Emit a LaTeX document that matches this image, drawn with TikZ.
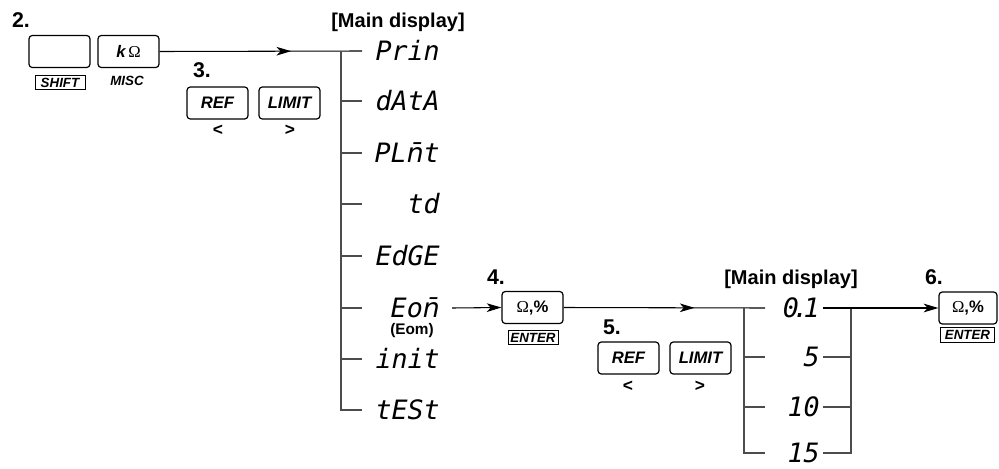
\documentclass[tikz,border=0pt]{standalone}
\usepackage{fontspec}
\setmainfont{Liberation Sans}
\newfontfamily\segfont{DejaVu Sans Mono}
\newfontfamily\segmark{DejaVu Sans}
\newfontfamily\omfont{Liberation Serif}
\usetikzlibrary{arrows.meta,decorations.markings}

\newcommand\barn{{\segmark n̄}}

\tikzset{
  keybox/.style={draw, rounded corners=2.5pt, line width=0.9pt, minimum width=45.75pt,
    minimum height=24pt, inner sep=0pt, font=\bfseries\itshape\fontsize{12.5}{14}\selectfont},
  tagbox/.style={draw, line width=0.6pt, minimum width=37.5pt, minimum height=11pt,
    inner sep=0pt, font=\bfseries\itshape\fontsize{10}{11}\selectfont},
  steplabel/.style={font=\bfseries\fontsize{16}{18}\selectfont},
  headlabel/.style={font=\bfseries\fontsize{15}{17}\selectfont},
  segtext/.style={anchor=base east, inner sep=0pt, font=\segfont\itshape\fontsize{20}{22}\selectfont},
  busline/.style={draw=black!70, line width=0.9pt},
  flowline/.style={line width=0.8pt, postaction={decorate},
    decoration={markings, mark=at position 0.65 with {\arrow{Stealth[length=11pt,width=6.5pt,inset=3pt]}}}},
  keyarrow/.style={line width=0.8pt, -{Stealth[length=11pt,width=6.5pt,inset=3pt]}},
  cursor/.style={font=\bfseries\fontsize{13}{13}\selectfont}
}

\begin{document}
\begin{tikzpicture}[x=0.75pt,y=-0.75pt]
    \useasboundingbox (0,0) rectangle (999,468);

         % --- Step 2: SHIFT + MISC ---
         \node[steplabel] (s2) at (21,20) {2.};
         \node[keybox] (shiftkey) at (59.5,51.5) {};
         \node[keybox] (misckey) at (128.5,51.5) {k\,{\omfont\mdseries\upshape Ω}};
         \node[tagbox] (shifttag) at (60,82.5) {SHIFT};
         \node[font=\bfseries\itshape\fontsize{10}{11}\selectfont] (misctag) at (127,81) {MISC};

         % --- Step 3: REF / LIMIT ---
         \node[steplabel] (s3) at (202,70) {3.};
         \node[keybox] (ref1) at (217.5,103) {REF};
         \node[keybox] (limit1) at (289.5,103) {LIMIT};
         \node[cursor] (left1) at (218,130) {<};
         \node[cursor] (right1) at (290,130) {>};

         % --- Main display (menu) ---
         \node[headlabel] (head1) at (398,22) {[Main display]};
         \coordinate (bus1) at (341,51);
         \foreach \txt/\y/\nm in {Prin/51/prin, dAtA/101/data, PL\barn t/153/plmt, td/204/td,
                                  EdGE/256/edge, Eo\barn/308/eom, init/359/init, tESt/410/test}{
             \node[segtext] (\nm) at (440,\y+9) {\txt};
             \coordinate (\nm tick) at (362,\y);
         }
         \node[font=\bfseries\fontsize{11.5}{12}\selectfont] (eomtag) at (412,331) {(Eom)};

         \draw[flowline] (misckey.east) -- (printick);
         \draw[busline] (bus1) |- (testtick);
         \foreach \nm in {data,plmt,td,edge,eom,init}
             \draw[busline] (bus1 |- \nm tick) -- (\nm tick);

         % --- Step 4: ENTER ---
         \node[steplabel] (s4) at (496,277) {4.};
         \node[keybox, font=\bfseries\fontsize{12.5}{14}\selectfont] (enter1) at (532.5,307.5)
              {{\omfont\mdseries Ω},\%};
         \node[tagbox] (entertag1) at (533,337.5) {ENTER};
         \coordinate (eomout) at (452,308);
         \draw[keyarrow] (eomout) -- (enter1.west);

         % --- Step 5: REF / LIMIT ---
         \node[steplabel] (s5) at (612,327) {5.};
         \node[keybox] (ref2) at (628.5,358) {REF};
         \node[keybox] (limit2) at (700.5,358) {LIMIT};
         \node[cursor] (left2) at (628,386) {<};
         \node[cursor] (right2) at (700,386) {>};

         % --- Main display (values) ---
         \node[headlabel] (head2) at (791,279) {[Main display]};
         \coordinate (bus2) at (744,308);
         \coordinate (bus3) at (851,308);
         \foreach \txt/\y/\nm in {{0\kern-0.22em.\kern-0.2em1}/308/v01, 5/357/v5,
                                  10/407/v10, 15/453/v15}{
             \node[segtext] (\nm) at (820,\y+9) {\txt};
             \coordinate (\nm in) at (765,\y);
             \coordinate (\nm out) at (823,\y);
         }

         \draw[flowline] (enter1.east) -- (v01in);
         \draw[busline] (bus2) |- (v15in);
         \draw[busline] (v15out) -| (bus3);
         \foreach \nm in {v5,v10}{
             \draw[busline] (bus2 |- \nm in) -- (\nm in);
             \draw[busline] (\nm out) -- (bus3 |- \nm out);
         }

         % --- Step 6: ENTER ---
         \node[steplabel] (s6) at (934,277) {6.};
         \node[keybox, minimum width=43.5pt, font=\bfseries\fontsize{12.5}{14}\selectfont] (enter2)
              at (968,308) {{\omfont\mdseries Ω},\%};
         \node[tagbox, minimum width=41pt] (entertag2) at (967.5,335) {ENTER};
         \draw[keyarrow] (v01out) -- (enter2.west);

\end{tikzpicture}
\end{document}
